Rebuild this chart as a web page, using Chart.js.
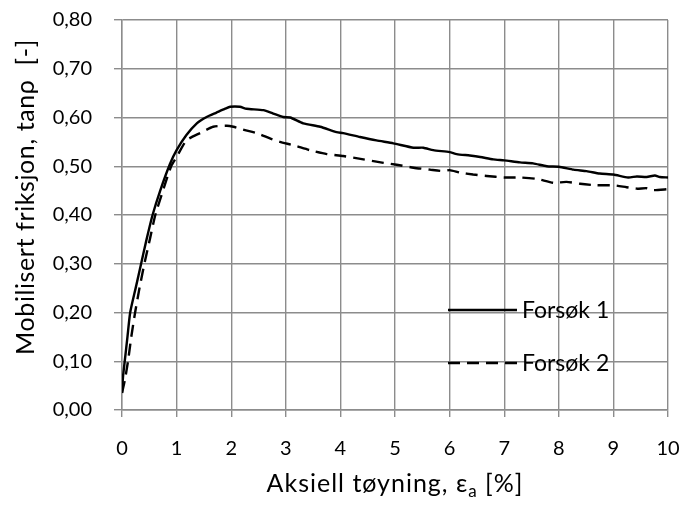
<!DOCTYPE html>
<html>
<head>
<meta charset="utf-8">
<script src="https://cdn.jsdelivr.net/npm/chart.js@4"></script>
<style>
  html, body { margin: 0; padding: 0; background: #fff; }
</style>
</head>
<body>
<canvas id="friksjonChart" width="682" height="506"></canvas>
<script>
// Series names
const seriesNames = ['Forsøk 1', 'Forsøk 2'];

// Forsøk 1 (solid line)
const strain1 = [0, 0.02, 0.05, 0.10, 0.15, 0.25, 0.35, 0.45, 0.56, 0.70, 0.88, 1.0, 1.18, 1.37, 1.55, 1.73, 1.89, 1.98,
  2.16, 2.28, 2.59, 2.77, 2.95, 3.08, 3.32, 3.63, 3.93, 4.05, 4.36, 4.66, 4.97, 5.34, 5.52, 5.70, 6.0, 6.13, 6.37,
  6.56, 6.80, 7.0, 7.29, 7.53, 7.78, 8.0, 8.27, 8.51, 8.75, 9.0, 9.27, 9.43, 9.61, 9.76, 9.85, 10.0];
const friksjon1 = [0.035, 0.07, 0.10, 0.15, 0.20, 0.25, 0.30, 0.35, 0.40, 0.45, 0.505, 0.533, 0.564, 0.588, 0.601, 0.610, 0.618, 0.622,
  0.622, 0.618, 0.615, 0.608, 0.601, 0.600, 0.588, 0.581, 0.570, 0.568, 0.560, 0.553, 0.547, 0.538, 0.538, 0.533, 0.529, 0.525, 0.522,
  0.519, 0.514, 0.512, 0.508, 0.506, 0.500, 0.499, 0.493, 0.490, 0.485, 0.483, 0.477, 0.479, 0.478, 0.481, 0.478, 0.477];

// Forsøk 2 (dashed line)
const strain2 = [0, 0.05, 0.11, 0.17, 0.24, 0.32, 0.41, 0.51, 0.61, 0.75, 0.90, 1.0, 1.18, 1.43, 1.67, 1.92, 2.04, 2.22,
  2.47, 2.71, 2.89, 3.14, 3.44, 3.75, 4.05, 4.42, 4.79, 5.03, 5.34, 5.64, 5.88, 6.0, 6.19, 6.43, 6.68, 7.0, 7.29,
  7.6, 7.90, 8.14, 8.39, 8.69, 9.0, 9.24, 9.43, 9.61, 9.73, 10.0];
const friksjon2 = [0.035, 0.06, 0.10, 0.15, 0.20, 0.25, 0.30, 0.35, 0.40, 0.45, 0.50, 0.519, 0.553, 0.568, 0.581, 0.583, 0.581, 0.575,
  0.568, 0.557, 0.550, 0.543, 0.533, 0.525, 0.521, 0.514, 0.507, 0.503, 0.497, 0.493, 0.490, 0.492, 0.487, 0.483, 0.480, 0.477, 0.477,
  0.474, 0.466, 0.468, 0.464, 0.461, 0.461, 0.457, 0.454, 0.455, 0.451, 0.453];

// Axis ranges
const xMin = 0, xMax = 10, xStep = 1;
const yMin = 0, yMax = 0.8, yStep = 0.1;

const gridColor = '#8c8c8c';
const fontFamily = 'Lato, "Open Sans", sans-serif';

function toPoints(xs, ys) {
  return xs.map((x, i) => ({ x: x, y: ys[i] }));
}

// Draws the axis titles and the legend inside the plot
const annotations = {
  id: 'annotations',
  afterDraw(chart) {
    const ctx = chart.ctx;
    const area = chart.chartArea;
    ctx.save();
    ctx.fillStyle = '#000';

    // y title
    ctx.save();
    ctx.translate(26, 197);
    ctx.rotate(-Math.PI / 2);
    ctx.font = '25px ' + fontFamily;
    ctx.letterSpacing = '0.6px';
    ctx.textAlign = 'center';
    ctx.textBaseline = 'middle';
    ctx.fillText('Mobilisert friksjon, tanρ  [-]', 0, 0);
    ctx.restore();

    // x title with subscript a
    ctx.save();
    ctx.letterSpacing = '1px';
    const big = '25px ' + fontFamily;
    const small = '17px ' + fontFamily;
    const parts = [['Aksiell tøyning, ε', big, 0], ['a', small, 5], [' [%]', big, 0]];
    let total = 0;
    parts.forEach(p => { ctx.font = p[1]; total += ctx.measureText(p[0]).width; });
    let x = (area.left + area.right) / 2 - total / 2;
    const baseY = 492;
    ctx.textAlign = 'left';
    ctx.textBaseline = 'alphabetic';
    parts.forEach(p => {
      ctx.font = p[1];
      ctx.fillText(p[0], x, baseY + p[2]);
      x += ctx.measureText(p[0]).width;
    });
    ctx.restore();

    // legend
    const legendY = [310, 363];
    ctx.font = '23px ' + fontFamily;
    ctx.textBaseline = 'middle';
    chart.data.datasets.forEach((ds, i) => {
      ctx.beginPath();
      ctx.strokeStyle = ds.borderColor;
      ctx.lineWidth = ds.borderWidth;
      ctx.setLineDash(ds.borderDash || []);
      ctx.moveTo(448, legendY[i]);
      ctx.lineTo(517, legendY[i]);
      ctx.stroke();
      ctx.setLineDash([]);
      ctx.fillText(ds.label, 522, legendY[i] + 1);
    });
    ctx.restore();
  }
};

const chart = new Chart(document.getElementById('friksjonChart'), {
  type: 'scatter',
  data: {
    datasets: [
      {
        label: seriesNames[0],
        data: toPoints(strain1, friksjon1),
        showLine: true,
        borderColor: '#000',
        borderWidth: 2.4,
        pointRadius: 0,
        tension: 0.2
      },
      {
        label: seriesNames[1],
        data: toPoints(strain2, friksjon2),
        showLine: true,
        borderColor: '#000',
        borderWidth: 2.4,
        borderDash: [12, 7],
        pointRadius: 0,
        tension: 0.2
      }
    ]
  },
  options: {
    responsive: false,
    animation: false,
    layout: { padding: { top: 20, right: 14, left: 0, bottom: 0 } },
    plugins: {
      legend: { display: false },
      tooltip: { enabled: false }
    },
    scales: {
      x: {
        type: 'linear',
        min: xMin,
        max: xMax,
        ticks: {
          stepSize: xStep,
          color: '#000',
          padding: 20,
          font: { family: fontFamily, size: 20 }
        },
        grid: { color: gridColor, lineWidth: 1.4, tickLength: 7 },
        border: { color: gridColor, width: 1.4 },
        afterFit(scale) {
          scale.height = 96;
          scale.paddingLeft = 0;
          scale.paddingRight = 0;
        }
      },
      y: {
        type: 'linear',
        min: yMin,
        max: yMax,
        ticks: {
          stepSize: yStep,
          color: '#000',
          padding: 22,
          font: { family: fontFamily, size: 20 },
          callback: v => v.toFixed(2).replace('.', ',')
        },
        grid: { color: gridColor, lineWidth: 1.4, tickLength: 8 },
        border: { color: gridColor, width: 1.4 },
        afterFit(scale) {
          scale.width = 122;
          scale.paddingTop = 0;
          scale.paddingBottom = 0;
        }
      }
    }
  },
  plugins: [annotations]
});
</script>
</body>
</html>
